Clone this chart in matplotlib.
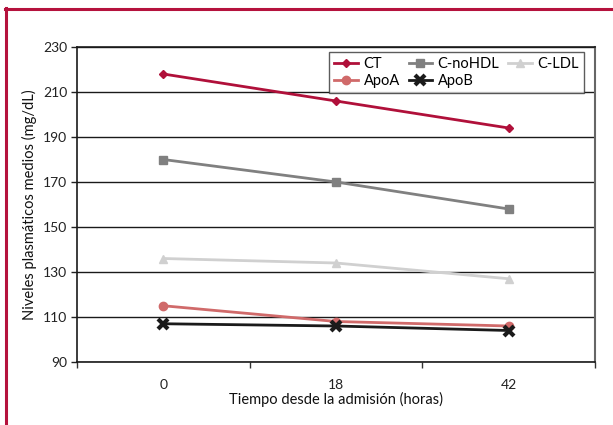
import matplotlib
matplotlib.use("Agg")
import matplotlib.pyplot as plt
from matplotlib.lines import Line2D

plt.rcParams['font.family'] = ['Lato', 'DejaVu Sans']

categories = ["0", "18", "42"]
ct = [218, 206, 194]
c_nohdl = [180, 170, 158]
c_ldl = [136, 134, 127]
apoa = [115, 108, 106]
apob = [107, 106, 104]
yticks = [90, 110, 130, 150, 170, 190, 210, 230]

fig = plt.figure(figsize=(6.13, 4.25), dpi=100)
ax = fig.add_axes([77/613, 1-362/425, (595-77)/613, (362-47)/425])

x = list(range(len(categories)))
lw = 2.0
h_ct, = ax.plot(x, ct, color='#b0103a', lw=lw, marker='D', ms=4.5, label='CT', zorder=5)
h_ap, = ax.plot(x, apoa, color='#d06a6a', lw=lw, marker='o', ms=6, label='ApoA', zorder=4)
h_nh, = ax.plot(x, c_nohdl, color='#808080', lw=lw, marker='s', ms=6, label='C-noHDL', zorder=5)
h_ab, = ax.plot(x, apob, color='#1a1a1a', lw=lw, marker='x', ms=7, mew=3, label='ApoB', zorder=5)
h_ld, = ax.plot(x, c_ldl, color='#d0d0d0', lw=lw, marker='^', ms=6, label='C-LDL', zorder=3)

ax.set_xlim(-0.5, 2.5)
ax.set_ylim(90, 230)
ax.set_yticks(yticks)
ax.set_xticks(x)
ax.set_xticklabels(categories)
ax.set_xticks([-0.5, 0.5, 1.5, 2.5], minor=True)
ax.tick_params(axis='x', which='major', length=0, pad=12, labelsize=10, colors='#222222')
ax.tick_params(axis='x', which='minor', length=4, width=1, direction='out', color='#333333')
ax.tick_params(axis='y', length=4, width=1, direction='out', labelsize=10, pad=3, colors='#222222')
ax.grid(axis='y', color='#1a1a1a', lw=1)
ax.set_axisbelow(True)
for s in ['left', 'bottom', 'top']:
    ax.spines[s].set_color('#1a1a1a')
    ax.spines[s].set_linewidth(1.2)
ax.spines['right'].set_color('#666666')
ax.spines['right'].set_linewidth(1.5)

ax.set_xlabel('Tiempo desde la admisión (horas)', fontsize=10.5, labelpad=1, color='#111111')
ax.set_ylabel('Niveles plasmáticos medios (mg/dL)', fontsize=10.5, labelpad=4, color='#111111')

leg = ax.legend(handles=[h_ct, h_ap, h_nh, h_ab, h_ld], ncol=3, loc='upper right',
                bbox_to_anchor=(1-11/518, 1-5/315), fontsize=10.5, frameon=True, fancybox=False,
                edgecolor='#333333', borderpad=0.35, handlelength=1.6, columnspacing=0.6,
                handletextpad=0.4, labelspacing=0.2, borderaxespad=0)
leg.get_frame().set_linewidth(1)

red = '#b5123d'
fig.add_artist(Line2D([6/613, 6/613], [0, 1-8/425], color=red, lw=2.2, transform=fig.transFigure))
fig.add_artist(Line2D([5/613, 1], [1-9/425, 1-9/425], color=red, lw=2.2, transform=fig.transFigure))

fig.savefig('out.png', dpi=100)
